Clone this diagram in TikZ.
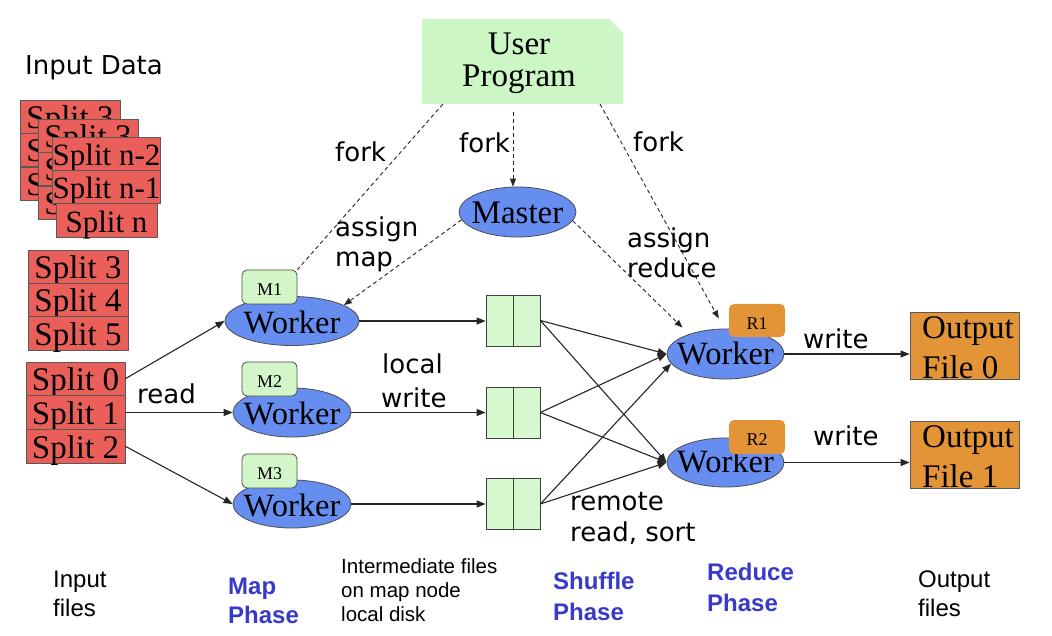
\documentclass[tikz,border=0pt]{standalone}
\usepackage{fontspec}
\setmainfont{Liberation Serif}
\newfontfamily\handfont{DejaVu Sans}
\newfontfamily\arialfont{Liberation Sans}
\usetikzlibrary{shapes.geometric,arrows.meta,calc}
\definecolor{splitred}{RGB}{235,95,90}
\definecolor{workerblue}{RGB}{102,142,240}
\definecolor{mgreen}{RGB}{210,246,200}
\definecolor{upgreen}{RGB}{204,246,196}
\definecolor{ibgreen}{RGB}{214,248,206}
\definecolor{rorange}{RGB}{226,148,54}
\definecolor{phaseblue}{RGB}{58,58,200}
\tikzset{
 splitrow/.style={rectangle,draw=black!65,fill=splitred,minimum width=100pt,minimum height=33.4pt,inner sep=0pt,font=\fontsize{33}{33}\selectfont,text height=24pt,text depth=0pt},
 worker/.style={ellipse,draw=black!70,fill=workerblue,inner sep=0pt,line width=0.8pt},
 wtext/.style={inner sep=0pt,font=\fontsize{32.5}{32.5}\selectfont,text height=24pt,text depth=0pt},
 rwtext/.style={wtext,text height=20pt},
 mbox/.style={rectangle,rounded corners=5pt,draw=black!70,line width=0.8pt,fill=mgreen,minimum width=55pt,minimum height=34pt,inner sep=0pt,font=\fontsize{18}{18}\selectfont,text height=16pt,text depth=0pt},
 rbox/.style={rectangle,rounded corners=5pt,draw=none,fill=rorange,minimum width=56pt,minimum height=33pt,inner sep=0pt,font=\fontsize{18}{18}\selectfont,text height=17pt,text depth=0pt},
 ibox/.style={rectangle,draw=black!75,line width=0.8pt,fill=ibgreen,minimum width=54pt,minimum height=51pt,inner sep=0pt},
 outbox/.style={rectangle,draw=black!65,line width=0.8pt,fill=rorange,minimum width=109pt,minimum height=67pt,inner sep=0pt},
 hand/.style={inner sep=0pt,font=\handfont\fontsize{26}{26}\selectfont,anchor=base west},
 serifline/.style={inner sep=0pt,font=\fontsize{33}{33}\selectfont,anchor=base},
 seriflw/.style={serifline,anchor=base west},
 sanslab/.style={inner sep=0pt,font=\arialfont\fontsize{24}{24}\selectfont,anchor=base west},
 smallsans/.style={sanslab,font=\arialfont\fontsize{20.5}{20.5}\selectfont},
 phase/.style={sanslab,font=\arialfont\bfseries\fontsize{24}{24}\selectfont,text=phaseblue},
 conn/.style={draw=black!85,line width=1.1pt,-{Triangle[length=9pt,width=7pt]}},
 dline/.style={draw=black!85,line width=0.9pt,dash pattern=on 4pt off 3pt},
 dconn/.style={dline,-{Triangle[length=8pt,width=6pt]}},
}
\begin{document}
\begin{tikzpicture}[x=1pt,y=-1pt]
\fill[white] (0,0) rectangle (1052,636);
\useasboundingbox (0,0) rectangle (1052,636);

% Input data label
\node[hand] (indata) at (25,75) {Input Data};

% stacked splits
\node[splitrow] (a1) at (70,116.5) {Split 3};
\node[splitrow] (a2) at (70,150) {Split 4};
\node[splitrow] (a3) at (70,183.5) {Split 5};
\node[splitrow] (b1) at (88,135.5) {Split 3};
\node[splitrow] (b2) at (88,169) {Split 4};
\node[splitrow] (b3) at (88,202.5) {Split 5};
\node[splitrow,minimum width=101pt,font=\fontsize{31}{31}\selectfont] (c1) at (106.5,153.5) {Split n-2};
\node[splitrow,minimum width=101pt,font=\fontsize{31}{31}\selectfont] (c2) at (106.5,186.8) {Split n-1};
\node[splitrow,minimum width=101pt,font=\fontsize{31}{31}\selectfont] (c3) at (106.5,220.2) {Split n};

\node[splitrow] (s3) at (78,266.7) {Split 3};
\node[splitrow] (s4) at (78,300) {Split 4};
\node[splitrow] (s5) at (78,333.3) {Split 5};

\node[splitrow,minimum width=99pt,minimum height=33.7pt] (s0) at (75.5,378.8) {Split 0};
\node[splitrow,minimum width=99pt,minimum height=33.7pt] (s1) at (75.5,412.5) {Split 1};
\node[splitrow,minimum width=99pt,minimum height=33.7pt] (s2) at (75.5,446.2) {Split 2};

% user program
\fill[upgreen] (422,19) -- (609,19) -- (623,33) -- (623,104) -- (422,104) -- cycle;
\node[minimum width=201pt,minimum height=85pt,inner sep=0pt] (up) at (522.5,61.5) {};
\node[serifline] (upl1) at (519,55) {User};
\node[serifline] (upl2) at (519,87) {Program};

% master
\node[worker,minimum width=117pt,minimum height=50pt] (master) at (517.5,212) {};
\node[wtext,font=\fontsize{33}{33}\selectfont] (mastert) at (master) {Master};

% map workers
\node[worker,minimum width=134pt,minimum height=49pt] (w1) at (292,321) {};
\node[worker,minimum width=118pt,minimum height=49pt] (w2) at (292,412.5) {};
\node[worker,minimum width=118pt,minimum height=48pt] (w3) at (292,504) {};
\node[wtext] (wt1) at (w1) {Worker};
\node[wtext] (wt2) at (w2) {Worker};
\node[wtext] (wt3) at (w3) {Worker};
\node[mbox] (m1) at (269.5,287) {M1};
\node[mbox] (m2) at (269.5,379) {M2};
\node[mbox] (m3) at (269.5,471) {M3};

% intermediate files
\node[ibox] (ib1) at (513,320.5) {};
\node[ibox] (ib2) at (513,412.5) {};
\node[ibox] (ib3) at (513,504) {};
\draw[black!75,line width=0.8pt] (ib1.north) -- (ib1.south);
\draw[black!75,line width=0.8pt] (ib2.north) -- (ib2.south);
\draw[black!75,line width=0.8pt] (ib3.north) -- (ib3.south);

% reduce workers
\node[worker,minimum width=117pt,minimum height=50pt] (r1) at (725.5,354) {};
\node[worker,minimum width=117pt,minimum height=49pt] (r2) at (725.5,462.5) {};
\node[rwtext] (rt1) at (r1) {Worker};
\node[rwtext] (rt2) at (r2) {Worker};
\node[rbox] (rb1) at (757,320.5) {R1};
\node[rbox,minimum height=34pt] (rb2) at (757,437) {R2};

% output files
\node[outbox] (out0) at (964.5,345.5) {};
\node[outbox] (out1) at (964.5,454.5) {};
\node[seriflw] (o0a) at (922,338) {Output};
\node[seriflw] (o0b) at (922,378) {File 0};
\node[seriflw] (o1a) at (922,447) {Output};
\node[seriflw] (o1b) at (922,487) {File 1};

% connectors: read
\draw[conn] (s0.east) -- (w1.west);
\draw[conn] (s1.east) -- (w2.west);
\draw[conn] (s2.east) -- (w3.west);
% local write
\draw[conn] (w1.east) -- (w1.east -| ib1.west);
\draw[conn] (w2.east) -- (w2.east -| ib2.west);
\draw[conn] (w3.east) -- (w3.east -| ib3.west);
% shuffle
\draw[conn] (ib1.east) -- (r1.west);
\draw[conn] (ib1.east) -- (r2.west);
\draw[conn] (ib2.east) -- (r1.west);
\draw[conn] (ib2.east) -- (r2.west);
\draw[conn] (ib3.east) -- (r1.190);
\draw[conn] (ib3.east) -- (r2.west);
% write
\draw[conn] (r1.east) -- (r1.east -| out0.west);
\draw[conn] (r2.east) -- (r2.east -| out1.west);

% dashed forks and assigns
\coordinate (fkL) at (443,104);
\coordinate (fkM) at (513,112);
\coordinate (fkR) at (600,104);
\draw[dline] (fkL) -- (m1.north east);
\draw[dconn] (fkM) -- (fkM |- master.north);
\draw[dconn] (fkR) -- ($(rb1.west)+(-10,-2)$);
\draw[dconn] (master.188) -- (w1.17);
\draw[dconn] (master.351) -- ($(r1.160)+(2,-10)$);

% hand-written labels
\node[hand] (fork1) at (335,162) {fork};
\node[hand] (fork2) at (459,153) {fork};
\node[hand] (fork3) at (633,152) {fork};
\node[hand] (am1) at (335,237) {assign};
\node[hand] (am2) at (335,267) {map};
\node[hand] (ar1) at (627,248) {assign};
\node[hand] (ar2) at (627,278) {reduce};
\node[hand] (readl) at (137,403) {read};
\node[hand] (lw1) at (382,373) {local};
\node[hand] (lw2) at (381,407) {write};
\node[hand] (wr1) at (803,348) {write};
\node[hand] (wr2) at (813,445) {write};
\node[hand] (rr1) at (570,510) {remote};
\node[hand] (rr2) at (570,541) {read, sort};

% bottom labels
\node[sanslab] (if1) at (53,587) {Input};
\node[sanslab] (if2) at (53,616) {files};
\node[phase] (mp1) at (228,594) {Map};
\node[phase] (mp2) at (228,623) {Phase};
\node[smallsans] (im1) at (341,573) {Intermediate files};
\node[smallsans] (im2) at (341,597) {on map node};
\node[smallsans] (im3) at (341,621) {local disk};
\node[phase] (sp1) at (553,589) {Shuffle};
\node[phase] (sp2) at (553,620) {Phase};
\node[phase] (rp1) at (707,580) {Reduce};
\node[phase] (rp2) at (707,611) {Phase};
\node[sanslab] (of1) at (918,587) {Output};
\node[sanslab] (of2) at (918,616) {files};
\end{tikzpicture}
\end{document}
